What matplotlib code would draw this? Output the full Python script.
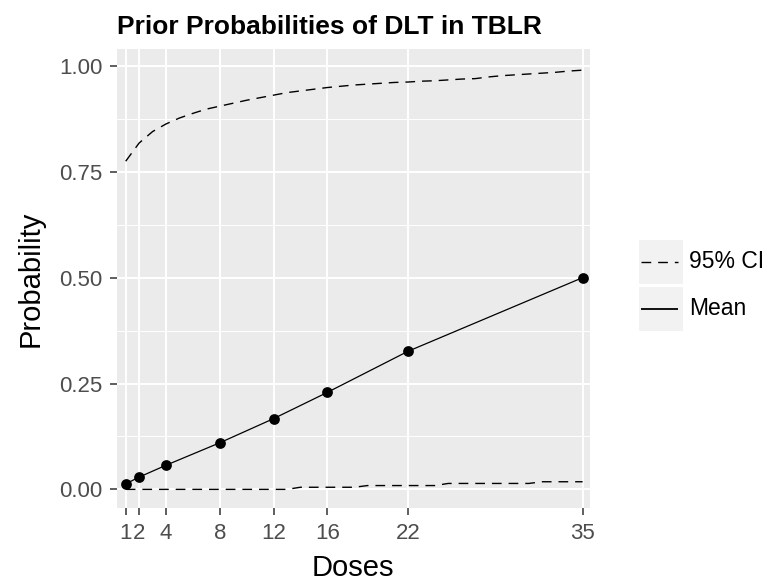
import matplotlib
matplotlib.use("Agg")
import matplotlib.pyplot as plt
from matplotlib.patches import Rectangle

plt.rcParams['font.family'] = ['Liberation Sans', 'DejaVu Sans']

# mean prior probability at the tested doses
doses = [1, 2, 4, 8, 12, 16, 22, 35]
mean_prob = [0.013, 0.029, 0.057, 0.110, 0.167, 0.229, 0.326, 0.500]

# 95% CI evaluated on every dose 1..35
ci_doses = list(range(1, 36))
ci_upper = [0.775, 0.818, 0.845, 0.863, 0.877, 0.888, 0.898, 0.905, 0.912, 0.919,
            0.925, 0.931, 0.937, 0.941, 0.945, 0.949, 0.952, 0.955, 0.957, 0.959,
            0.961, 0.962, 0.964, 0.965, 0.967, 0.969, 0.970, 0.974, 0.977, 0.979,
            0.981, 0.983, 0.985, 0.988, 0.990]
ci_lower = [0.0] * 13 + [0.005] * 5 + [0.009] * 6 + [0.014] * 7 + [0.018] * 4

y_ticks = [0.0, 0.25, 0.5, 0.75, 1.0]
y_ticklabels = ['0.00', '0.25', '0.50', '0.75', '1.00']
legend_labels = ['95% CI', 'Mean']

DASH = (0, (7, 5))

W, H = 770, 585
fig = plt.figure(figsize=(W / 100, H / 100), dpi=100)
ax = fig.add_axes([116.7 / W, 1 - 508 / H, (590 - 116.7) / W, (508 - 49) / H])
ax.set_facecolor('#EBEBEB')

ax.plot(ci_doses, ci_upper, color='black', lw=1.0, ls=DASH)
ax.plot(ci_doses, ci_lower, color='black', lw=1.0, ls=DASH)
ax.plot(doses, mean_prob, color='black', lw=0.9)
ax.scatter(doses, mean_prob, s=60, color='black', zorder=3, linewidths=0)

ax.set_xlim(0.33, 35.55)
ax.set_ylim(-0.044, 1.040)
ax.set_xticks(doses)
ax.set_xticklabels([str(d) for d in doses])
ax.set_yticks(y_ticks)
ax.set_yticklabels(y_ticklabels)
ax.set_yticks([0.125, 0.375, 0.625, 0.875], minor=True)

ax.grid(True, which='major', color='white', lw=1.4)
ax.grid(True, which='minor', axis='y', color='white', lw=0.7)
ax.set_axisbelow(True)
for s in ax.spines.values():
    s.set_visible(False)
ax.tick_params(axis='both', which='major', colors='#333333', length=5, width=1.1,
               labelsize=16, labelcolor='#4D4D4D', pad=5)
ax.tick_params(axis='x', which='major', pad=6)
ax.tick_params(axis='both', which='minor', length=0)

ax.set_xlabel('Doses', fontsize=21, labelpad=7)
ax.set_ylabel('Probability', fontsize=21, labelpad=11)
ax.set_title('Prior Probabilities of DLT in TBLR', fontsize=19, fontweight='bold',
             loc='left', pad=11)

# legend drawn ggplot-style: grey key boxes with line samples
lax = fig.add_axes([638 / W, 1 - 332 / H, (W - 638) / W, 94 / H])
lax.set_xlim(638, W)
lax.set_ylim(332, 238)
lax.axis('off')
key_styles = [DASH, '-']
for i, (lab, st) in enumerate(zip(legend_labels, key_styles)):
    top = 240 + i * 46.5
    lax.add_patch(Rectangle((638.5, top), 44, 44, color='#F2F2F2', lw=0))
    lax.plot([640.5, 677.5], [top + 22, top + 22], color='black',
             lw=1.0 if st != '-' else 1.3, ls=st, solid_capstyle='butt')
    lax.text(689, top + 22, lab, fontsize=16.5, va='center', ha='left')

fig.savefig('out.png', dpi=100)
